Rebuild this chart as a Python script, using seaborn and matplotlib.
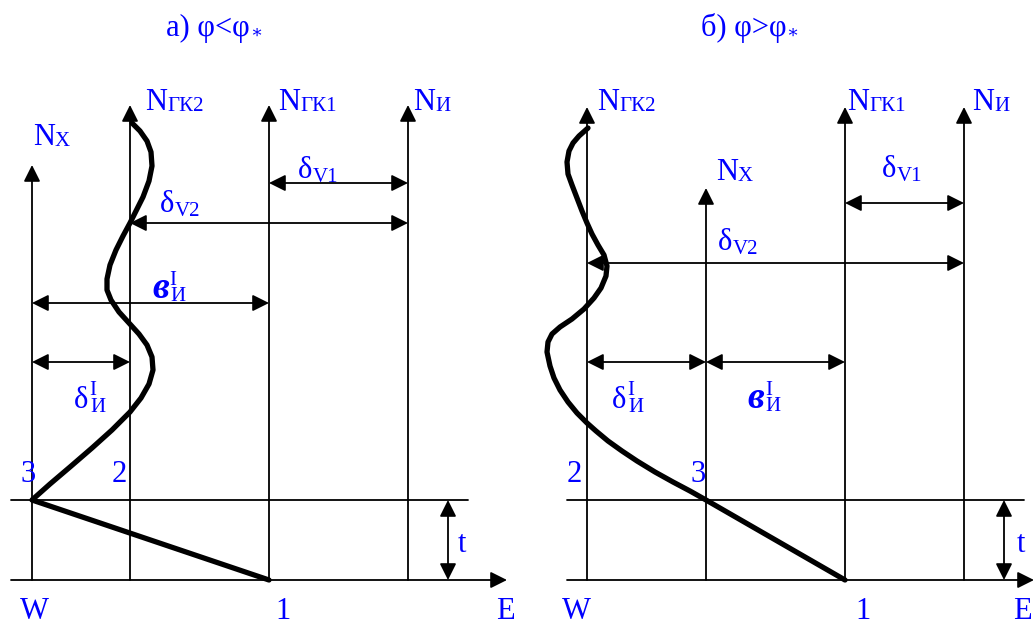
import matplotlib
matplotlib.use("Agg")
import matplotlib.pyplot as plt
import seaborn as sns

sns.set_style("white")
plt.rcParams['font.family'] = ['Liberation Serif', 'DejaVu Serif']

BLUE = '#0000ff'

# Panel titles
titles = ["а) φ<φ", "б) φ>φ"]
title_x = [166, 701]

# Vertical axes (x position, top tip) for each panel
axes_a = {'W': (32, 165), 'ГК2': (130, 105), 'ГК1': (269, 105), 'И': (408, 105)}
axes_b = {'W': (587, 107), 'X': (706, 188), 'ГК1': (845, 107), 'И': (964, 107)}

# Profile curves: point 1 -> point 3 -> up along the column
profile_a_x = [269, 32, 50, 70, 92, 112, 130, 141, 149, 153, 152, 147, 139, 129, 119, 111, 107, 107,
               110, 116, 123, 130, 136, 143, 149, 152, 151, 147, 140, 132]
profile_a_y = [580, 500, 484, 467, 448, 430, 412, 398, 384, 370, 357, 345, 334, 323, 312, 300, 290, 279,
               265, 250, 236, 223, 211, 197, 181, 166, 152, 141, 131, 123]
profile_b_x = [845, 706, 690, 673, 655, 637, 622, 608, 596, 587, 577, 568, 560, 554, 550, 547, 548, 552,
               560, 572, 584, 594, 601, 606, 607, 604, 598, 592, 587, 582, 577, 572, 568, 567, 569, 573,
               579, 588]
profile_b_y = [580, 500, 491, 482, 472, 461, 451, 441, 431, 423, 413, 402, 390, 378, 366, 352, 342, 334,
               327, 319, 309, 298, 288, 276, 266, 255, 245, 234, 223, 211, 198, 185, 174, 162, 151, 143,
               136, 128]

fig = plt.figure(figsize=(10.34, 6.26), dpi=100)
ax = fig.add_axes([0, 0, 1, 1])
ax.set_xlim(0, 1034)
ax.set_ylim(626, 0)
ax.axis('off')

LW = 1.3


def arrow(x0, y0, x1, y1, style='<|-|>'):
    ax.annotate('', xy=(x1, y1), xytext=(x0, y0),
                arrowprops=dict(arrowstyle=style + ',head_length=0.5,head_width=0.25',
                                lw=LW, color='black', shrinkA=0, shrinkB=0,
                                mutation_scale=20))


def label(x, y, main, sub=None, sup=None, main_size=22, small=15, style='normal',
          weight='normal', drop=4):
    t = ax.text(x, y, main, fontsize=main_size, color=BLUE, ha='left', va='baseline',
                fontstyle=style, fontweight=weight)
    fig.canvas.draw()
    xs = x + t.get_window_extent().width
    if sup:
        ax.text(xs + 1, y - 13, sup, fontsize=small, color=BLUE, ha='left', va='baseline')
    if sub:
        ax.text(xs + (2 if sup else 0), y + drop, sub, fontsize=small, color=BLUE,
                ha='left', va='baseline')


def panel(off, axes, base_right, t_x, prof_x, prof_y):
    left = off + 11 if off == 0 else off + 47
    # baseline and t-line
    arrow(left, 580, base_right, 580, '-|>')
    ax.plot([left, t_x + 20], [500, 500], color='black', lw=LW)
    arrow(t_x, 500, t_x, 580)
    for k, (x, top) in axes.items():
        arrow(x, 580, x, top, '-|>')
    sns.lineplot(x=prof_x, y=prof_y, sort=False, estimator=None, color='black', lw=3.8, ax=ax)


panel(0, axes_a, 507, 448, profile_a_x, profile_a_y)
panel(520, axes_b, 1034, 1004, profile_b_x, profile_b_y)

# dimension arrows
arrow(269, 183, 408, 183)
arrow(130, 223, 408, 223)
arrow(32, 303, 269, 303)
arrow(32, 362, 130, 362)
arrow(845, 203, 964, 203)
arrow(587, 263, 964, 263)
arrow(587, 362, 706, 362)
arrow(706, 362, 845, 362)

# titles
for tx, tt in zip(title_x, titles):
    t = ax.text(tx, 36, tt, fontsize=22, color=BLUE, ha='left', va='baseline')
    fig.canvas.draw()
    ax.text(tx + t.get_window_extent().width, 38, '∗', fontsize=13, color=BLUE,
            ha='left', va='baseline')

# left panel labels
label(33, 145, 'N', 'X', drop=1)
label(145, 110, 'N', 'ГК2', drop=1)
label(278, 110, 'N', 'ГК1', drop=1)
label(413, 110, 'N', 'И', drop=1)
label(298, 178, 'δ', 'V1')
label(160, 212, 'δ', 'V2')
label(152, 298, 'в', 'И', 'I', main_size=27, style='italic', weight='bold', drop=3)
label(74, 408, 'δ', 'И', 'I')
for x, y, s in [(20, 482, '3'), (112, 482, '2'), (20, 619, 'W'), (275, 619, '1'),
                (496, 619, 'E'), (458, 552, 't')]:
    ax.text(x, y, s, fontsize=22, color=BLUE, ha='left', va='baseline')

# right panel labels
label(597, 110, 'N', 'ГК2', drop=1)
label(847, 110, 'N', 'ГК1', drop=1)
label(972, 110, 'N', 'И', drop=1)
label(716, 180, 'N', 'X', drop=1)
label(882, 177, 'δ', 'V1')
label(718, 250, 'δ', 'V2')
label(612, 408, 'δ', 'И', 'I')
label(747, 408, 'в', 'И', 'I', main_size=27, style='italic', weight='bold', drop=3)
for x, y, s in [(567, 482, '2'), (691, 482, '3'), (562, 619, 'W'), (855, 619, '1'),
                (1013, 619, 'E'), (1017, 552, 't')]:
    ax.text(x, y, s, fontsize=22, color=BLUE, ha='left', va='baseline')

fig.savefig('out.png', dpi=100)
